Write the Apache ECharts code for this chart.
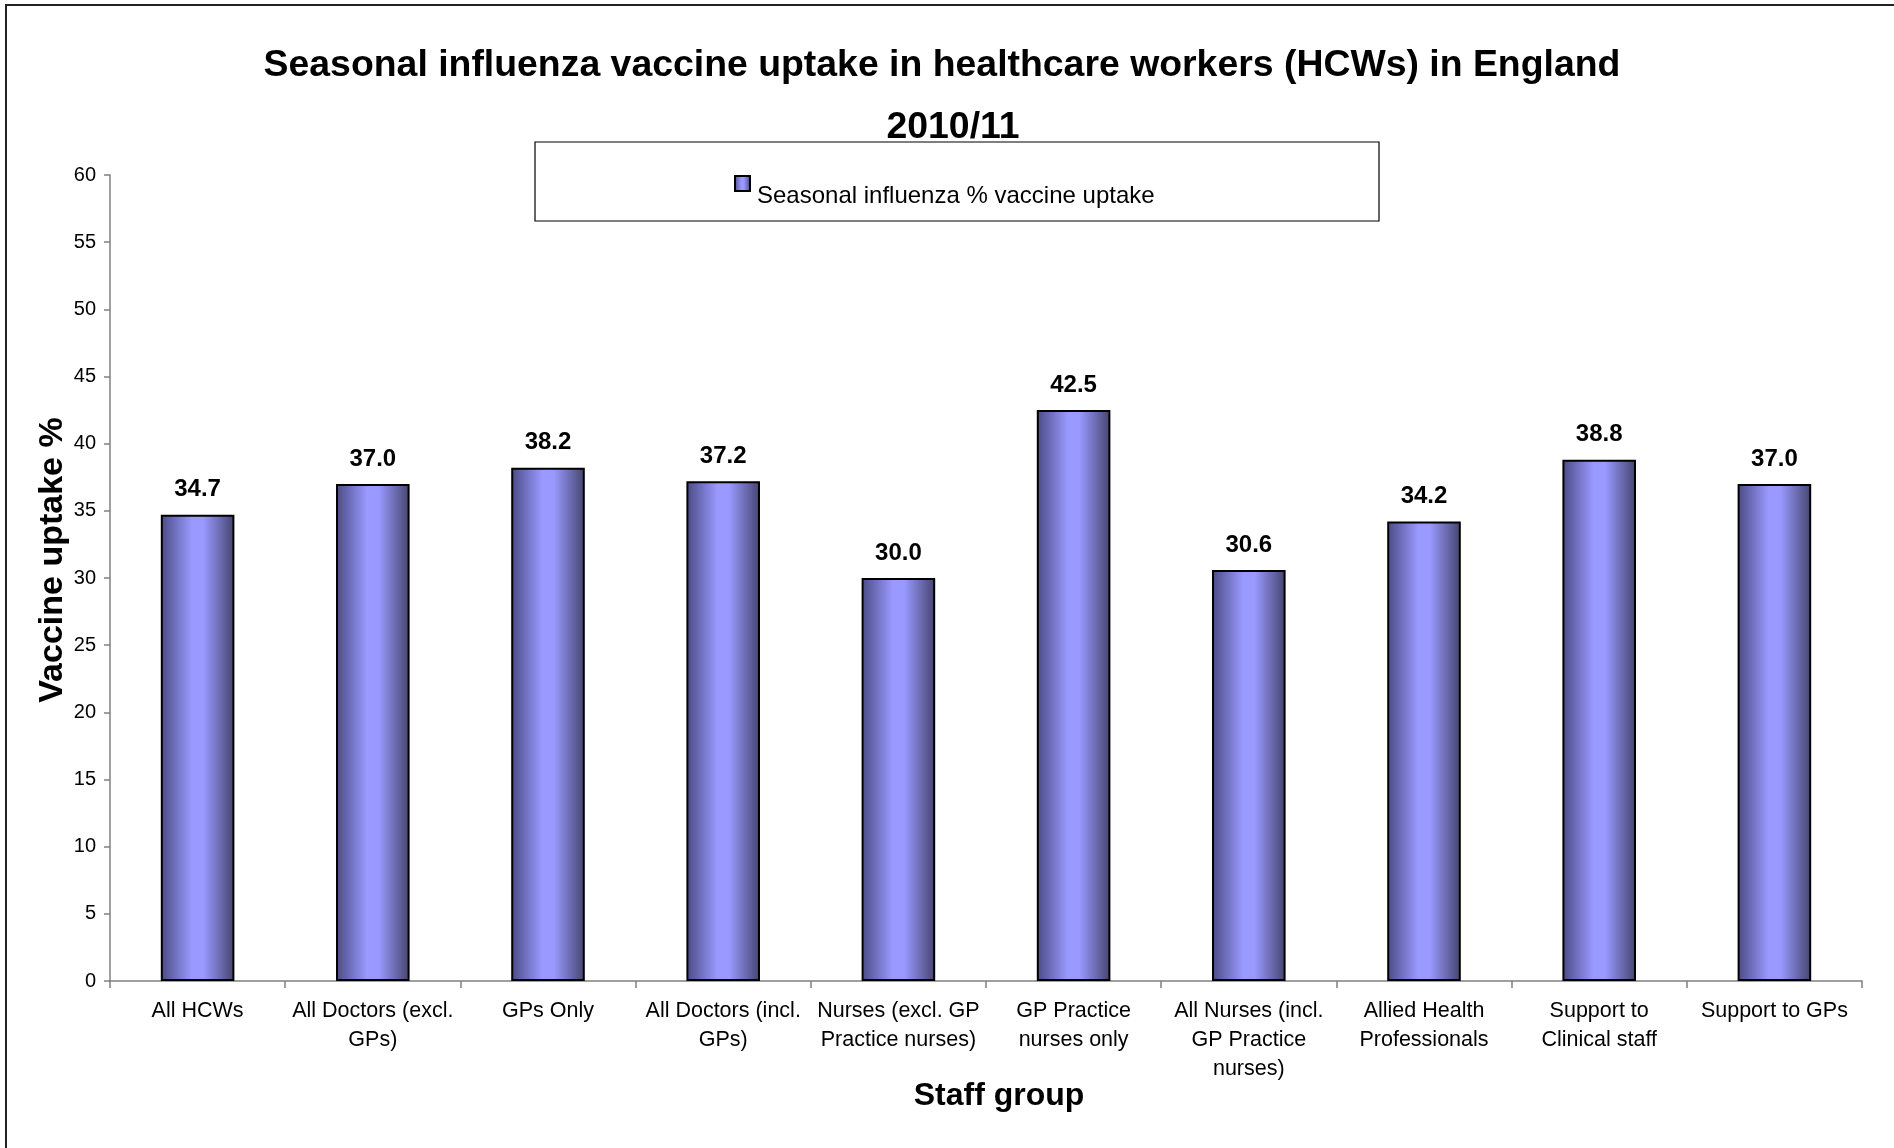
<!DOCTYPE html>
<html>
<head>
<meta charset="utf-8">
<script src="https://cdn.jsdelivr.net/npm/echarts@6/dist/echarts.min.js"></script>
<style>
html,body{margin:0;padding:0;background:#fff;}
#chart{width:1894px;height:1148px;}
</style>
</head>
<body>
<div id="chart"></div>
<script>
const titleLine1 = 'Seasonal influenza vaccine uptake in healthcare workers (HCWs) in England';
const titleLine2 = '2010/11';
const seriesName = 'Seasonal influenza % vaccine uptake';
const categories = [
  'All HCWs',
  'All Doctors (excl.\nGPs)',
  'GPs Only',
  'All Doctors (incl.\nGPs)',
  'Nurses (excl. GP\nPractice nurses)',
  'GP Practice\nnurses only',
  'All Nurses (incl.\nGP Practice\nnurses)',
  'Allied Health\nProfessionals',
  'Support to\nClinical staff',
  'Support to GPs'
];
const uptake = [34.7, 37.0, 38.2, 37.2, 30.0, 42.5, 30.6, 34.2, 38.8, 37.0];
const yAxisName = 'Vaccine uptake %';
const xAxisName = 'Staff group';

const FONT = '"Liberation Sans", Arial, sans-serif';
const chart = echarts.init(document.getElementById('chart'));
const barGrad = new echarts.graphic.LinearGradient(0, 0, 1, 0, [
  {offset: 0, color: '#4a4a84'},
  {offset: 0.42, color: '#9999ff'},
  {offset: 0.58, color: '#9999ff'},
  {offset: 1, color: '#44446e'}
]);
const titleStyle = {fontFamily: FONT, fontSize: 37.4, fontWeight: 'bold', color: '#000', lineHeight: 62};
chart.setOption({
  backgroundColor: '#fff',
  animation: false,
  textStyle: {fontFamily: FONT},
  title: [
    {text: titleLine1, left: 942, top: 30, padding: [5, 0, 5, 0], textAlign: 'center', textStyle: titleStyle},
    {text: titleLine2, left: 953, top: 92, padding: [5, 0, 5, 0], textAlign: 'center', textStyle: titleStyle}
  ],
  graphic: [
    {type: 'rect', shape: {x: 6, y: 5, width: 2000, height: 2000}, style: {fill: 'none', stroke: '#222', lineWidth: 2}, silent: true, z: -1},
    {type: 'rect', shape: {x: 535, y: 142, width: 844, height: 79}, style: {fill: '#fff', stroke: '#000', lineWidth: 1.2}, silent: true, z: 0}
  ],
  legend: {
    left: 734,
    top: 175,
    padding: 0,
    icon: 'rect',
    itemWidth: 15,
    itemHeight: 15,
    itemGap: 10,
    formatter: '{t|{name}}',
    textStyle: {
      fontFamily: FONT, fontSize: 24, color: '#000',
      rich: {t: {fontFamily: FONT, fontSize: 24, color: '#000', padding: [26, 0, 0, 2]}}
    },
    data: [seriesName],
    z: 5
  },
  grid: {left: 110, right: 32, top: 175, bottom: 167},
  xAxis: {
    type: 'category',
    data: categories,
    name: xAxisName,
    nameLocation: 'middle',
    nameGap: 99,
    nameMoveOverlap: false,
    nameTextStyle: {fontFamily: FONT, fontSize: 32, fontWeight: 'bold', color: '#000', padding: [0, 0, 0, 26]},
    axisLine: {lineStyle: {color: '#808080', width: 1.5}},
    axisTick: {show: true, alignWithLabel: false, length: 7, lineStyle: {color: '#808080', width: 1.5}},
    axisLabel: {fontFamily: FONT, fontSize: 21.5, color: '#000', lineHeight: 29, margin: 16, interval: 0}
  },
  yAxis: {
    type: 'value',
    min: 0,
    max: 60,
    interval: 5,
    name: yAxisName,
    nameLocation: 'middle',
    nameGap: 40,
    nameMoveOverlap: false,
    nameRotate: 90,
    nameTextStyle: {fontFamily: FONT, fontSize: 34, fontWeight: 'bold', color: '#000', padding: [0, 0, 0, 36]},
    axisLine: {show: true, lineStyle: {color: '#808080', width: 1.5}},
    axisTick: {show: true, length: 6, lineStyle: {color: '#808080', width: 1.5}},
    axisLabel: {fontFamily: FONT, fontSize: 20, color: '#000', margin: 14},
    splitLine: {show: false}
  },
  series: [{
    name: seriesName,
    type: 'bar',
    data: uptake,
    barWidth: '42%',
    itemStyle: {color: barGrad, borderColor: '#000', borderWidth: 2},
    label: {
      show: true,
      position: 'top',
      distance: 13,
      formatter: p => p.value.toFixed(1),
      fontFamily: FONT,
      fontSize: 24,
      fontWeight: 'bold',
      color: '#000'
    }
  }]
});
</script>
</body>
</html>
